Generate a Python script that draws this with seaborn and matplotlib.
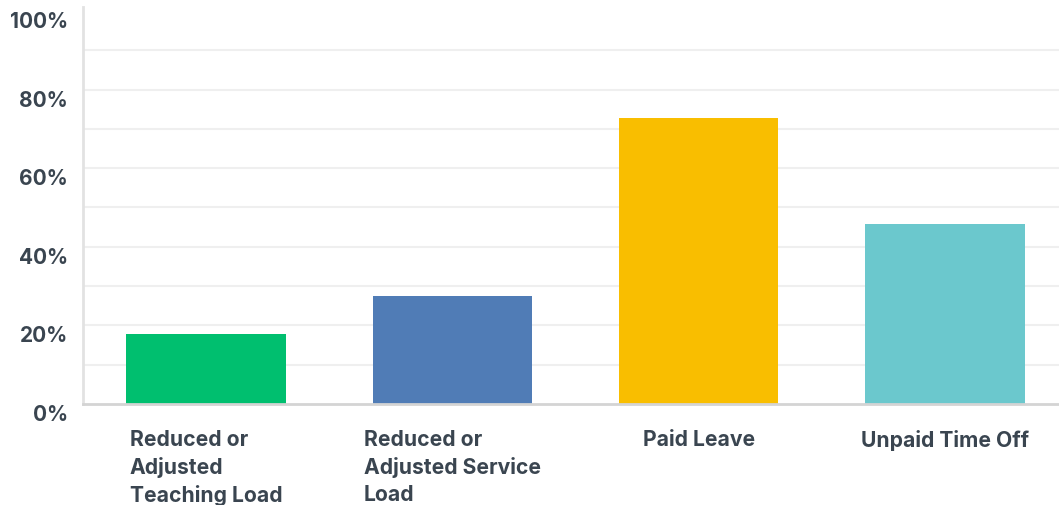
import matplotlib
matplotlib.use("Agg")
import matplotlib.pyplot as plt
import matplotlib.transforms as mtransforms
import pandas as pd
import seaborn as sns

categories = [
    "Reduced or\nAdjusted\nTeaching Load",
    "Reduced or\nAdjusted Service\nLoad",
    "Paid Leave",
    "Unpaid Time Off",
]
percentages = [17.8, 27.6, 72.8, 45.8]
bar_colors = ["#00BF6F", "#507CB6", "#F9BE00", "#6BC8CD"]
y_ticks = [0, 20, 40, 60, 80, 100]
y_tick_labels = ["0%", "20%", "40%", "60%", "80%", "100%"]

df = pd.DataFrame({"option": categories, "pct": percentages})

sns.set_theme(style="white")
plt.rcParams["font.family"] = ["Inter", "DejaVu Sans"]

W, H = 1059, 506
fig = plt.figure(figsize=(W / 100, H / 100), dpi=100)
ax = fig.add_axes([83 / W, 101 / H, 985 / W, 397 / H])

sns.barplot(
    data=df, x="option", y="pct", hue="option",
    palette=bar_colors, width=0.647, legend=False, ax=ax,
    saturation=1, edgecolor="none", zorder=2,
)

for v in range(10, 100, 10):
    ax.axhline(v, color="#efefef", lw=1.5, zorder=0)

ax.set_xlim(-0.5, 3.5)
ax.set_ylim(0, 101)
ax.set_yticks(y_ticks)
ax.set_yticklabels(y_tick_labels)
ax.set_xlabel("")
ax.set_ylabel("")

text_color = "#3a4550"
ax.tick_params(axis="y", length=0, pad=11, labelsize=15, labelcolor=text_color)
ax.tick_params(axis="x", length=0, pad=18, labelsize=15.2, labelcolor=text_color)

shift = mtransforms.ScaledTranslation(0, -8 / 100, fig.dpi_scale_trans)
for lbl in ax.get_yticklabels():
    lbl.set_fontweight("bold")
    lbl.set_transform(lbl.get_transform() + shift)
for lbl in ax.get_xticklabels():
    lbl.set_fontweight("bold")
    lbl.set_multialignment("left")
    lbl.set_linespacing(1.42)
    lbl.set_verticalalignment("top")

for side in ["top", "right"]:
    ax.spines[side].set_visible(False)
ax.spines["left"].set_color("#e2e2e2")
ax.spines["left"].set_linewidth(2)
ax.spines["bottom"].set_color("#d4d4d4")
ax.spines["bottom"].set_linewidth(2)
ax.spines["bottom"].set_zorder(3)

fig.savefig("out.png", dpi=100, facecolor="white")
